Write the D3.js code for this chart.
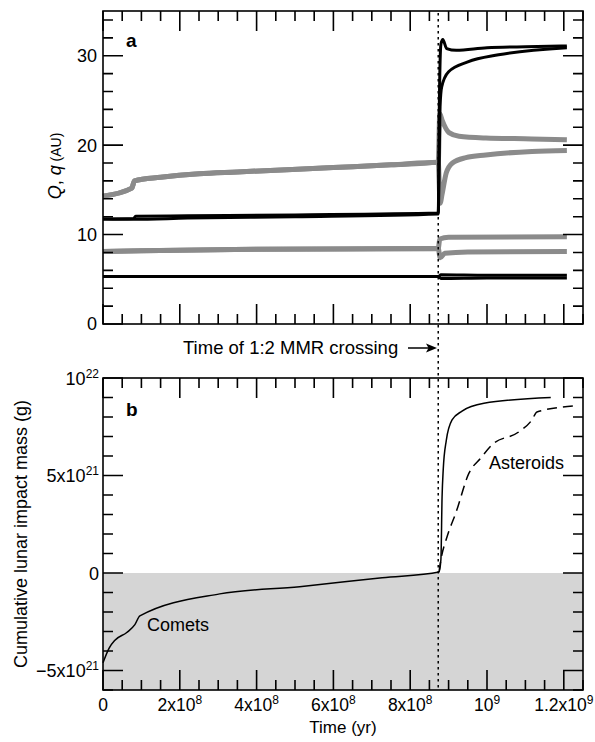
<!DOCTYPE html>
<html>
<head>
<meta charset="utf-8">
<script src="https://cdn.jsdelivr.net/npm/d3@7"></script>
<style>
  body { margin: 0; background: #fff; }
  svg { font-family: "Liberation Sans", Arial, Helvetica, sans-serif; }
</style>
</head>
<body>
<div id="chart"></div>
<script>
const width = 595
const height = 742

// time in units of 1e8 yr, distances in AU
const crossing = 8.73

// panel a: aphelion Q / perihelion q of the four planets
const jupiterQ = [[0, 5.3], [4, 5.3], [8.73, 5.3], [8.8, 5.5], [10, 5.45], [12.08, 5.45]]
const jupiterq = [[0, 5.3], [4, 5.3], [8.73, 5.3], [8.8, 5.1], [10, 5.15], [12.08, 5.15]]
const saturnQ = [[0, 8.1], [1, 8.2], [4, 8.35], [8.73, 8.45], [8.77, 9.5], [9, 9.7], [12.08, 9.75]]
const saturnq = [[0, 8.1], [1, 8.2], [4, 8.35], [8.73, 8.45], [8.78, 7.4], [8.9, 7.9], [9.5, 8.05], [12.08, 8.1]]
const giant1Q = [[0, 11.75], [0.8, 11.8], [0.85, 12.05], [2.2, 12.1], [5, 12.2], [8.73, 12.4],
  [8.76, 25], [8.8, 31.3], [8.85, 31.8], [8.95, 30.8], [9.2, 30.6], [10, 30.9], [11, 31.0], [12.08, 31.1]]
const giant1q = [[0, 11.75], [0.8, 11.7], [2.2, 11.85], [5, 12.0], [8.73, 12.3],
  [8.76, 20], [8.78, 24.5], [8.82, 26.5], [9.0, 28.2], [9.5, 29.3], [10.3, 30.1], [12.08, 30.9]]
const giant2Q = [[0, 14.3], [0.75, 15.2], [0.82, 16.0], [1.5, 16.4], [2.5, 16.8], [3.5, 17.0], [4.5, 17.2],
  [6, 17.5], [7.5, 17.8], [8.73, 18.1], [8.77, 23.5], [8.83, 22.8], [9.01, 21.4], [9.27, 21.0], [9.97, 20.8], [11.17, 20.7], [12.08, 20.6]]
const giant2q = [[0, 14.3], [0.75, 15.2], [0.82, 16.0], [1.5, 16.4], [2.5, 16.8], [3.5, 17.0], [4.5, 17.2],
  [6, 17.5], [7.5, 17.8], [8.73, 18.1], [8.78, 13.5], [8.83, 14.5], [8.94, 16.9], [9.1, 18.0], [9.45, 18.6], [9.97, 18.9], [11.17, 19.3], [12.08, 19.4]]

// panel b: cumulative lunar impact mass, units of 1e21 g
const comets = [[0, -4.6], [0.16, -3.85], [0.31, -3.45], [0.62, -3.05], [0.83, -2.65], [0.96, -2.2],
  [3.04, -1.07], [5.12, -0.7], [7.27, -0.24], [8.75, 0.05], [8.8, 0.7], [8.83, 3.9], [8.86, 5.3],
  [8.94, 6.8], [9.09, 7.85], [9.35, 8.3], [9.92, 8.7], [11.66, 9.0]]
const asteroids = [[8.75, 0.05], [8.8, 0.68], [8.96, 1.86], [9.19, 3.09], [9.53, 5.12], [9.84, 5.9],
  [10.13, 6.57], [10.83, 7.24], [11.17, 7.85], [11.3, 8.26], [12.31, 8.57]]

const xMajor = [0, 2, 4, 6, 8, 10, 12]
const xLabels = [["0", ""], ["2x10", "8"], ["4x10", "8"], ["6x10", "8"], ["8x10", "8"], ["10", "9"], ["1.2x10", "9"]]
const yTopMajor = [0, 10, 20, 30]
const yBotMajor = [-5, 0, 5, 10]
const yBotLabels = [["\u22125x10", "21"], ["0", ""], ["5x10", "21"], ["10", "22"]]

const svg = d3.select("#chart").append("svg")
    .attr("width", width)
    .attr("height", height)

const x = d3.scaleLinear().domain([0, 12.5]).range([103, 583])
const yTop = d3.scaleLinear().domain([0, 35]).range([324, 11])
const yBot = d3.scaleLinear().domain([-6, 10]).range([690, 378])

const grey = "#8b8b8b"
const xMinor = d3.range(0, 12.51, 0.5)

/* ticks on all four sides, pointing inward */
function frameTicks(y, yMinor, yMajor) {
    const [y0, y1] = y.range()
    const [x0, x1] = x.range()
    const ticks = []
    xMinor.forEach(v => {
        const l = xMajor.includes(v) ? 20 : 10
        ticks.push([x(v), y0, x(v), y0 - l])
        ticks.push([x(v), y1, x(v), y1 + l])
    })
    yMinor.forEach(v => {
        const l = yMajor.includes(v) ? 20 : 10
        ticks.push([x0, y(v), x0 + l, y(v)])
        ticks.push([x1, y(v), x1 - l, y(v)])
    })
    svg.append("path")
        .attr("d", ticks.map(t => `M${t[0]},${t[1]}L${t[2]},${t[3]}`).join(""))
        .attr("fill", "none")
        .attr("stroke", "black")
        .attr("stroke-width", 1.6)
    svg.append("rect")
        .attr("x", x0)
        .attr("y", y1)
        .attr("width", x1 - x0)
        .attr("height", y0 - y1)
        .attr("fill", "none")
        .attr("stroke", "black")
        .attr("stroke-width", 1.6)
}

/* Panel b shading */
svg.append("rect")
    .attr("x", x(0))
    .attr("y", yBot(0))
    .attr("width", x(12.5) - x(0))
    .attr("height", yBot(-6) - yBot(0))
    .attr("fill", "#d5d5d5")

/* Panel a lines */
const lineTop = d3.line().x(d => x(d[0])).y(d => yTop(d[1])).curve(d3.curveMonotoneX)
const greyLines = [saturnQ, saturnq, giant2Q, giant2q]
const blackLines = [jupiterQ, jupiterq, giant1Q, giant1q]
greyLines.forEach(l => svg.append("path")
    .attr("d", lineTop(l))
    .attr("fill", "none")
    .attr("stroke", grey)
    .attr("stroke-width", 5))
blackLines.forEach(l => svg.append("path")
    .attr("d", lineTop(l))
    .attr("fill", "none")
    .attr("stroke", "black")
    .attr("stroke-width", 3))

/* Panel b lines */
const lineBot = d3.line().x(d => x(d[0])).y(d => yBot(d[1])).curve(d3.curveMonotoneX)
svg.append("path")
    .attr("d", lineBot(comets))
    .attr("fill", "none")
    .attr("stroke", "black")
    .attr("stroke-width", 1.5)
svg.append("path")
    .attr("d", lineBot(asteroids))
    .attr("fill", "none")
    .attr("stroke", "black")
    .attr("stroke-width", 1.5)
    .attr("stroke-dasharray", "10,6")

frameTicks(yTop, d3.range(0, 35, 2), yTopMajor)
frameTicks(yBot, d3.range(-6, 10.1, 1), yBotMajor)

/* dotted crossing line */
svg.append("path")
    .attr("d", `M${x(crossing)},13L${x(crossing)},690`)
    .attr("stroke", "black")
    .attr("stroke-width", 1.5)
    .attr("stroke-dasharray", "2.5,3.5")

/* tick labels */
function supLabel(sel, base, sup) {
    sel.append("tspan").text(base)
    if (sup) {
        sel.append("tspan").attr("font-size", 12).attr("dy", -7).text(sup)
    }
}
yTopMajor.forEach(v => {
    svg.append("text")
        .attr("x", 97).attr("y", yTop(v)).attr("dy", "0.36em")
        .attr("text-anchor", "end")
        .attr("font-size", 18)
        .text(v)
})
yBotMajor.forEach((v, i) => {
    const t = svg.append("text")
        .attr("x", 99).attr("y", yBot(v) + 6.5)
        .attr("text-anchor", "end")
        .attr("font-size", 18)
    supLabel(t, yBotLabels[i][0], yBotLabels[i][1])
})
xMajor.forEach((v, i) => {
    const t = svg.append("text")
        .attr("x", x(v)).attr("y", 711)
        .attr("text-anchor", "middle")
        .attr("font-size", 17.5)
    supLabel(t, xLabels[i][0], xLabels[i][1])
})

/* axis titles */
svg.append("text")
    .attr("x", (x(0) + x(12.5)) / 2).attr("y", 733)
    .attr("text-anchor", "middle")
    .attr("font-size", 17)
    .text("Time (yr)")

const qLabel = svg.append("text")
    .attr("transform", "translate(61,166) rotate(-90)")
    .attr("text-anchor", "middle")
    .attr("font-size", 18)
qLabel.append("tspan").attr("font-style", "italic").text("Q")
qLabel.append("tspan").text(", ")
qLabel.append("tspan").attr("font-style", "italic").text("q")
qLabel.append("tspan").attr("font-size", 14).text(" (AU)")

svg.append("text")
    .attr("transform", "translate(27,534) rotate(-90)")
    .attr("text-anchor", "middle")
    .attr("font-size", 18)
    .text("Cumulative lunar impact mass (g)")

/* panel letters and annotations */
svg.append("text")
    .attr("x", 126).attr("y", 47)
    .attr("font-size", 19).attr("font-weight", "bold")
    .text("a")
svg.append("text")
    .attr("x", 126).attr("y", 416)
    .attr("font-size", 19).attr("font-weight", "bold")
    .text("b")

svg.append("text")
    .attr("x", 183).attr("y", 354)
    .attr("font-size", 18.5)
    .text("Time of 1:2 MMR crossing")
svg.append("path")
    .attr("d", "M408,348L430,348")
    .attr("stroke", "black")
    .attr("stroke-width", 1.5)
svg.append("path")
    .attr("d", "M437,348 L426,343.5 L428.5,348 L426,352.5 Z")
    .attr("fill", "black")

svg.append("text")
    .attr("x", 147).attr("y", 631)
    .attr("font-size", 18)
    .text("Comets")
svg.append("text")
    .attr("x", 489).attr("y", 469)
    .attr("font-size", 18)
    .text("Asteroids")
</script>
</body>
</html>
